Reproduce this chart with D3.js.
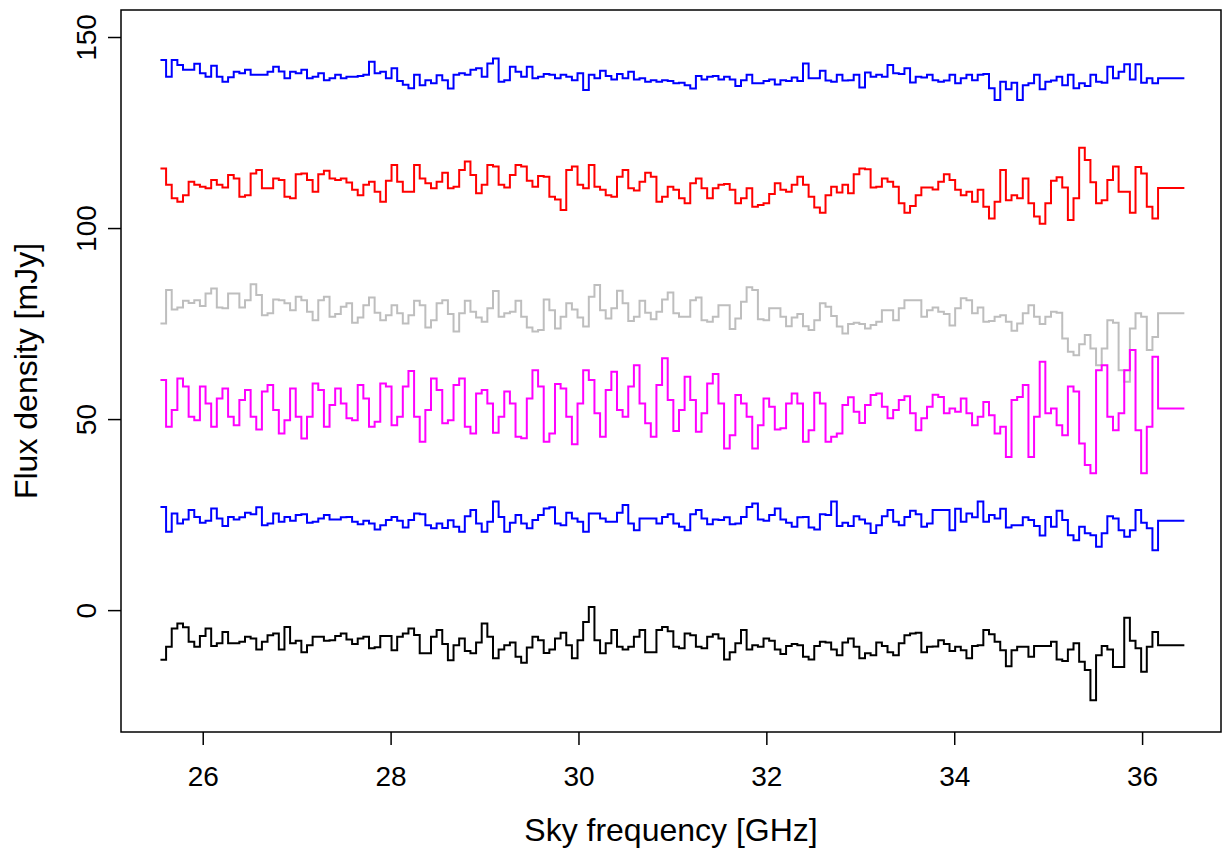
<!DOCTYPE html>
<html>
<head>
<meta charset="utf-8">
<script src="https://cdn.jsdelivr.net/npm/d3@7"></script>
<style>
  body { margin: 0; background: #fff; }
  text { font-family: "Liberation Sans", Arial, Helvetica, sans-serif; }
</style>
</head>
<body>
<div class="canvas"></div>
<script>
// channel grid of the spectra
const f0 = 25.55;        // first channel [GHz]
const chanWidth = 0.06;  // channel spacing [GHz]
const fEnd = 36.45;      // last channel value is held to here

const xTicks = [26, 28, 30, 32, 34, 36];
const yTicks = [0, 50, 100, 150];

// flux density per channel [mJy]
const blueTop = [
  144, 139.6, 144, 142.7, 141.4, 141.4, 143, 140.5, 139.6, 142.5,
  139.6, 138.3, 139.5, 140.9, 140.5, 141.4, 140.1, 140.1, 140.1, 140.9,
  142.2, 141, 139.2, 140.9, 140.5, 141.4, 139.2, 139.6, 140.5, 138.7,
  139.2, 140.1, 139.2, 139.6, 139.6, 139.8, 140.1, 143.5, 140.5, 140.9,
  139.2, 141.8, 138.5, 137.5, 136.6, 140.1, 137.4, 138.7, 137.9, 140,
  138.7, 136.5, 140.1, 140.5, 140.1, 141.4, 141.8, 139.6, 143.1, 144.4,
  138.3, 138.7, 142.2, 140.9, 139.6, 142.2, 139.2, 139.6, 140.3, 140.1,
  139.2, 140.1, 139.6, 138.7, 140.5, 136.1, 140.1, 139.2, 141.2, 139.8,
  138.9, 140.3, 139.2, 140.9, 138.9, 139.2, 138.3, 138.7, 138.3, 138.7,
  138.5, 137.9, 138, 137.4, 136.5, 139.8, 138.9, 139.6, 139.8, 138.9,
  139.6, 138.9, 137.2, 138.7, 140.1, 137.9, 137.9, 138.5, 138.9, 137.6,
  138.7, 138.5, 139.4, 138.5, 143.1, 139.2, 139.2, 141.2, 138.6, 138.3,
  140.1, 138.6, 138.7, 140.1, 136.8, 140.7, 139.6, 140.1, 139.6, 142.7,
  140.5, 140.3, 141.8, 138.1, 139.6, 139.4, 140.1, 138.7, 138.3, 138.6,
  140.1, 137.9, 139.2, 140.1, 138.7, 140.1, 140.3, 136.6, 133.5, 138.3,
  136.3, 138, 133.5, 137.4, 137.9, 140.1, 136.3, 138.3, 138.6, 139.6,
  137.4, 140.1, 136.6, 137.9, 137.2, 140.1, 138.3, 138, 142.2, 139.2,
  140.9, 142.9, 138.9, 142.9, 138, 139.2, 137.9, 139.2
];

const red = [
  115.6, 111.3, 107.8, 106.9, 108.6, 112.1, 111.3, 110.8, 110.4, 112.6,
  111.3, 110.6, 113.9, 113, 108.2, 108.6, 114.3, 115.2, 110.4, 110.4,
  113, 112.6, 108.2, 107.8, 114.1, 114.3, 112.6, 109.5, 114.1, 115,
  113, 112.6, 113, 111.9, 110, 108.6, 111.3, 112.1, 109.5, 106.9,
  112.4, 116.5, 112.1, 109.5, 109.5, 116.5, 113, 111.7, 110.4, 112.1,
  114.5, 110.4, 110.8, 115.2, 117.4, 113.9, 109.1, 111.3, 116.5, 116.1,
  111.3, 110.6, 113.9, 116.5, 116.1, 112.4, 110.8, 113.6, 113.4, 108.2,
  107.5, 104.7, 115.2, 116.1, 111.3, 110.4, 116.5, 110.8, 110, 108.6,
  108.2, 113.4, 115.2, 110.4, 109.8, 112.1, 114.5, 113.4, 106.9, 108.2,
  110.8, 110, 107.8, 106.5, 111.7, 113, 110.4, 107.8, 110.4, 111.3,
  111.5, 110, 106.5, 107.8, 110.4, 105.6, 106, 106.5, 108.9, 111.7,
  110, 109.5, 111.3, 113.4, 111.3, 108.2, 105.4, 104, 108.6, 110.8,
  109.3, 111.3, 109.1, 114.1, 115.6, 115.4, 110.6, 110.8, 113, 112.1,
  110.8, 106.5, 104, 105.8, 108.6, 110.6, 110.6, 110.1, 112.1, 114.1,
  112.6, 110, 108.6, 109.5, 106.9, 110, 105.6, 102.5, 106.9, 115.2,
  107.3, 108.6, 107.8, 113, 106.5, 103, 101.1, 106.5, 112.4, 113.3,
  110.6, 102.1, 107.8, 121, 117.8, 112, 106.5, 107.3, 112.6, 116.1,
  109.5, 109.5, 104, 116, 114.3, 105.6, 102.5, 110.5
];

const gray = [
  75, 83.8, 78.7, 79.2, 81, 80.4, 81.1, 79.6, 82.9, 84.2,
  79.2, 79, 82.9, 82.9, 79.2, 81.1, 85.3, 82.5, 77.2, 77.7,
  81.3, 81.1, 80.3, 78.5, 82, 81.1, 78.1, 75.9, 81.1, 82,
  76.8, 77.5, 79.4, 80.3, 75.2, 76.6, 79.8, 81.8, 77.8, 75.9,
  77.2, 79.8, 77.7, 75, 77.2, 81, 79.8, 74, 75.9, 80.3,
  81.1, 77.5, 72.9, 77.7, 81, 78.1, 76.6, 75.5, 79, 83.5,
  76.8, 77.7, 78.1, 81, 76.8, 74, 72.9, 73.3, 81.3, 78.5,
  73.7, 76.8, 80.3, 78.7, 76.6, 74.2, 82, 85.1, 78.5, 76.3,
  79, 83.6, 80.3, 75.7, 76.8, 81, 77.8, 76.1, 78.1, 81.3,
  83.1, 77.7, 76.8, 76.8, 81.1, 81.8, 75.9, 75.5, 76.8, 79.8,
  79.8, 73.6, 76.3, 80.7, 84.5, 83.8, 76.1, 75.9, 79, 79,
  76.8, 74.3, 76.6, 77.5, 74.3, 73.3, 75.9, 80.3, 79.4, 77,
  74.2, 72.4, 74.9, 75.2, 74.9, 73.7, 74.6, 75.5, 78.5, 78.5,
  75.9, 79, 81.1, 81.1, 81.1, 76.8, 78.5, 79.2, 78.1, 77.5,
  74.5, 79, 81.6, 81.1, 77.7, 79.2, 75.5, 75.7, 76.8, 77.2,
  75.5, 73.1, 75, 77.7, 79.8, 76.8, 74.9, 76.8, 78.1, 77.8,
  71.1, 67.6, 66.7, 69.6, 72, 68.5, 64.1, 68.5, 75.9, 75.2,
  62.8, 59.8, 73.7, 77.7, 76.8, 68.1, 71.5, 77.7
];

const magenta = [
  60.2, 48, 52.4, 60.6, 58.5, 50.6, 49.7, 58.5, 54.1, 48,
  55.4, 58, 50.6, 48.4, 55, 57.6, 50.6, 47.3, 57.2, 58.9,
  52.4, 46.2, 49.7, 58, 50.6, 44.9, 50.6, 59.3, 57.6, 48,
  53.7, 58, 54.1, 50.2, 49.7, 58.9, 55.4, 48, 49.3, 59.3,
  58.5, 48.4, 50.6, 58.5, 62.6, 50.6, 44.1, 52.4, 60.6, 57.6,
  48.9, 49.7, 58.9, 60.6, 48, 46.2, 56.7, 57.6, 54.1, 46.4,
  50.6, 57.2, 54.1, 45.4, 45, 55.4, 62.8, 58.5, 44.1, 46.2,
  59.2, 58, 50.6, 43.4, 54.1, 62.8, 60.2, 51.5, 45.4, 57.6,
  62.4, 52.4, 50.6, 58.5, 64.1, 54.1, 48.9, 45.4, 58.9, 65.9,
  55, 46.9, 52.4, 61.1, 55, 46.7, 51.5, 59.3, 61.8, 54.1,
  42.3, 45.8, 56.3, 54.1, 50.6, 42.3, 48.4, 55.4, 53.2, 47.3,
  47.6, 54.1, 56.7, 54.1, 44.1, 47.1, 56.9, 54.1, 44.1, 45.4,
  46.2, 53.7, 55.7, 51.9, 49, 53.7, 56.3, 56.7, 53.2, 50.2,
  52.4, 55, 56, 51.5, 47.1, 50.2, 53.2, 56.4, 55.8, 51.5,
  52.8, 51.9, 55.4, 51.5, 48.4, 50.6, 54.5, 51, 46.2, 48,
  40.1, 55, 55.8, 58.9, 40.1, 50.6, 65, 51.5, 52.8, 48.4,
  45.8, 58.5, 57.2, 43.6, 38, 35.8, 62.8, 64.1, 50.6, 47.1,
  51.5, 62.8, 68.1, 47.1, 35.8, 48, 66.3, 52.8
];

const blueLow = [
  27, 20.5, 25.3, 22.7, 23.7, 26.2, 24.4, 22.9, 23.4, 26.6,
  24, 22, 24.4, 23.7, 24.3, 25.5, 25.1, 26.9, 22.2, 22.7,
  25.3, 23.1, 24.4, 23.4, 24.9, 25.1, 22.9, 23.1, 24, 24.9,
  23.7, 23.7, 24.3, 24.4, 23.1, 22.5, 23.4, 22.7, 21.1, 22.2,
  23.6, 24.4, 23.4, 21.6, 23.6, 25.3, 25.1, 22.2, 21.4, 22.7,
  21.5, 23.5, 21.8, 20.5, 24.6, 26.2, 22.7, 20.5, 23.1, 28.4,
  24.4, 20.5, 22.9, 24.9, 22.7, 21.4, 23.6, 24.9, 26.6, 26.9,
  22.7, 22.2, 25.5, 24, 23.1, 20.5, 25.3, 25.3, 24, 23.1,
  23.1, 25.5, 27.5, 22.7, 20.9, 24, 24, 24, 22.7, 24.4,
  25.1, 22.7, 21.8, 20.9, 25.1, 26.2, 24, 22.5, 23.7, 23.6,
  24.3, 22.5, 22.7, 24.4, 27, 27.9, 23.7, 23.4, 24.9, 26.6,
  23.7, 22.9, 21.8, 24.3, 24.4, 21.6, 21.1, 25.1, 24.9, 28.4,
  22, 22.9, 22, 24.6, 23.7, 22.7, 20.2, 22.2, 24.6, 26.2,
  23.1, 22.2, 24.4, 26, 25.1, 21.8, 22.7, 26.2, 26.2, 26.2,
  20.9, 26.5, 23.1, 25.3, 24.3, 28.4, 23.1, 24.9, 24, 26.5,
  21.6, 22.2, 22.2, 24.3, 23.6, 22, 19.5, 24.4, 21.8, 26,
  23.6, 19.6, 18.3, 21.8, 20.1, 19.6, 16.6, 20.1, 24.6, 24,
  20.9, 19.2, 20.9, 26.2, 22.9, 21.4, 15.7, 23.4
];

const black = [
  -13, -9.6, -4.8, -3.5, -4.5, -8.3, -9.6, -6.8, -4.8, -9.4,
  -8.7, -5.7, -8.7, -8.7, -8.3, -7, -7.4, -10.3, -8.3, -6.6,
  -6.1, -10.3, -4.4, -8.7, -8, -11, -9.2, -7, -7, -8,
  -7.9, -6.8, -6.1, -7.7, -8.9, -7.4, -7, -10, -9.7, -6.8,
  -6.8, -10.5, -7, -6.1, -4.8, -6.5, -11.3, -11.3, -7, -5.2,
  -8.9, -13.1, -9.2, -7.4, -10.7, -11.3, -8.5, -3.5, -7, -12.6,
  -10.3, -9.2, -8.5, -12.2, -13.8, -9.8, -7, -7.9, -11.2, -10.3,
  -7.4, -5.9, -9.2, -12.6, -7.9, -3.1, 0.8, -7.9, -11.3, -8.7,
  -5.2, -9.6, -10.3, -9.6, -7, -5.2, -11, -11, -5.2, -4.4,
  -5.5, -9.6, -10, -6.1, -6.6, -9.6, -10, -7, -6.3, -7.4,
  -12.9, -11, -8.7, -5.2, -10.3, -9.2, -9.6, -7.4, -8, -10.3,
  -11.5, -9.4, -8.9, -9.2, -12.2, -12.9, -9.4, -8.3, -8.5, -10.3,
  -11.8, -8.5, -7.4, -9.6, -12.6, -11.3, -11.8, -8.5, -9.4, -11,
  -11.8, -8.7, -6.6, -6.1, -5.9, -11, -9.6, -9.5, -7.9, -8.9,
  -10.7, -9.6, -10.5, -12.6, -9.4, -9.2, -5.2, -6.3, -8.3, -10.5,
  -14.7, -10.5, -9.6, -9.6, -12.2, -9.4, -9.4, -9.4, -8.3, -12.9,
  -13.3, -10.3, -8.7, -13.5, -15.7, -23.6, -11.8, -9.4, -10.3, -14.9,
  -14.9, -2, -8, -10, -16.1, -9.6, -5.7, -9.2
];

const series = [
  { values: blueTop, color: "#0000ff" },
  { values: red, color: "#ff0000" },
  { values: gray, color: "#bebebe" },
  { values: magenta, color: "#ff00ff" },
  { values: blueLow, color: "#0000ff" },
  { values: black, color: "#000000" }
];

const width = 1222;
const height = 848;
const box = { left: 121, right: 1221, top: 10, bottom: 732 };

const svg = d3
  .select(".canvas")
  .append("svg")
  .attr("width", width)
  .attr("height", height)
  .style("background", "#fff");

const x = d3.scaleLinear().domain([25.13, 36.84]).range([box.left, box.right]);
const y = d3.scaleLinear().domain([-31.9, 157.07]).range([box.bottom, box.top]);

// step lines, one per spectrum
const line = d3
  .line()
  .x((d) => x(d[0]))
  .y((d) => y(d[1]))
  .curve(d3.curveStepAfter);

series.forEach((s) => {
  const pts = s.values.map((v, i) => [f0 + i * chanWidth, v]);
  pts.push([fEnd, s.values[s.values.length - 1]]);
  svg
    .append("path")
    .datum(pts)
    .attr("fill", "none")
    .attr("stroke", s.color)
    .attr("stroke-width", 2)
    .attr("stroke-linejoin", "miter")
    .attr("d", line);
});

// box round the plot region
svg
  .append("rect")
  .attr("x", box.left)
  .attr("y", box.top)
  .attr("width", box.right - box.left)
  .attr("height", box.bottom - box.top)
  .attr("fill", "none")
  .attr("stroke", "#000")
  .attr("stroke-width", 1.5);

// axes
const xAxis = d3.axisBottom(x).tickValues(xTicks).tickSize(13).tickSizeOuter(0);
const yAxis = d3.axisLeft(y).tickValues(yTicks).tickSize(13).tickSizeOuter(0);

const xAxisGroup = svg
  .append("g")
  .attr("transform", `translate(0, ${box.bottom})`)
  .call(xAxis);
const yAxisGroup = svg
  .append("g")
  .attr("transform", `translate(${box.left}, 0)`)
  .call(yAxis);

[xAxisGroup, yAxisGroup].forEach((g) => {
  g.select(".domain").remove();
  g.selectAll("line").attr("stroke", "#000").attr("stroke-width", 1.5);
  g.selectAll("text")
    .attr("font-family", "Liberation Sans, Arial, sans-serif")
    .attr("font-size", 28)
    .attr("fill", "#000");
});

xAxisGroup.selectAll("text").attr("y", 54).attr("dy", 0);

// R draws the y labels parallel to the axis
yAxisGroup
  .selectAll("text")
  .attr("x", 0)
  .attr("dy", 0)
  .attr("text-anchor", "middle")
  .attr("transform", "translate(-25,0) rotate(-90)");

// axis titles
svg
  .append("text")
  .attr("x", (box.left + box.right) / 2)
  .attr("y", 841)
  .attr("text-anchor", "middle")
  .attr("font-size", 32)
  .text("Sky frequency [GHz]");

svg
  .append("text")
  .attr("transform", `translate(37, ${(box.top + box.bottom) / 2}) rotate(-90)`)
  .attr("text-anchor", "middle")
  .attr("font-size", 32)
  .text("Flux density [mJy]");
</script>
</body>
</html>
